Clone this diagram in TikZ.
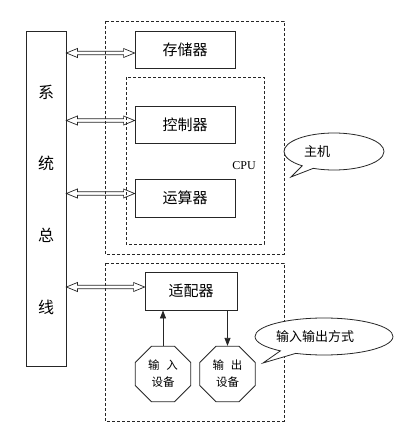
\documentclass[tikz,border=0pt]{standalone}
\usepackage{fontspec}
\setmainfont{Liberation Serif}
\newfontfamily\cjk{Noto Sans CJK SC}
\usetikzlibrary{arrows.meta,shapes.geometric,shapes.callouts,calc}
\begin{document}
\begin{tikzpicture}[x=1pt,y=-1pt,
  line width=0.8pt, draw=black!85,
  unit/.style={draw, rectangle, minimum width=100pt, minimum height=37pt, inner sep=0pt, font=\cjk\fontsize{15}{15}\selectfont},
  dashbox/.style={draw, dash pattern=on 3pt off 2pt, line width=0.7pt},
  hollow/.style={draw, line width=0.7pt, line join=miter},
  dev/.style={draw, regular polygon, regular polygon sides=8, minimum size=60pt, inner sep=0pt, align=center, font=\cjk\fontsize{11.5}{17}\selectfont},
  bubble/.style={draw, ellipse callout, inner sep=0pt, fill=white},
  bustext/.style={font=\cjk\fontsize{16}{16}\selectfont},
  sig/.style={-{Triangle[length=8pt,width=6pt]}}
]
\useasboundingbox (0,0) rectangle (413,428);
% dashed boxes
\draw[dashbox] (105,21) rectangle (284,254);
\draw[dashbox] (126,77) rectangle (264,244);
\draw[dashbox] (105,263) rectangle (284,421);
% bus
\node[draw, rectangle, minimum width=40pt, minimum height=335pt, inner sep=0pt] (bus) at (46,198.5) {};
\node[bustext] (b1) at (46,92) {系};
\node[bustext] (b2) at (46,163) {统};
\node[bustext] (b3) at (46,235) {总};
\node[bustext] (b4) at (46,307) {线};
% units
\node[unit] (mem) at (185,49.5) {存储器};
\node[unit] (ctl) at (185,124.5) {控制器};
\node[unit, minimum height=38pt] (alu) at (185,198) {运算器};
\node[unit, minimum width=92pt, minimum height=38pt] (adp) at (191,291) {适配器};
\node[font=\fontsize{12}{12}\selectfont] (cpu) at (244,166) {CPU};
% bus links (hollow double-headed arrows)
\coordinate (e1) at ([yshift=-3.5pt]mem.west);
\coordinate (e2) at ([yshift=4pt]ctl.west);
\coordinate (e3) at ([yshift=4.5pt]alu.west);
\coordinate (e4) at ([yshift=4pt]adp.west);
\foreach \e in {e1,e2,e3,e4}
  \draw[hollow] let \p1=(\e -| bus.east), \p2=(\e), \n1={\x2-\x1-22pt} in
    (\p1) -- ++(11,-4.5) -- ++(0,2.8) -- ++(\n1,0) -- ++(0,-2.8) -- (\p2)
    -- ++(-11,4.5) -- ++(0,-2.8) -- ++(-\n1,0) -- ++(0,2.8) -- cycle;
% devices
\node[dev] (in) at (163,374) {输\hspace{0.6em}入\\设备};
\node[dev] (out) at (227.5,374) {输\hspace{0.6em}出\\设备};
\draw[sig] (in.north) -- (in.north |- adp.south);
\draw[sig] (out.north |- adp.south) -- (out.north);
% bubbles
\node[bubble, minimum width=100pt, minimum height=37pt, callout absolute pointer={(291,177)}] (bub1) at (334,151.5) {};
\node[font=\cjk\fontsize{13}{13}\selectfont] (t1) at (317,152) {主机};
\node[bubble, minimum width=138pt, minimum height=37pt, callout absolute pointer={(263,363)}] (bub2) at (324,336.5) {};
\node[font=\cjk\fontsize{13}{13}\selectfont] (t2) at (315,337) {输入输出方式};
\end{tikzpicture}
\end{document}
